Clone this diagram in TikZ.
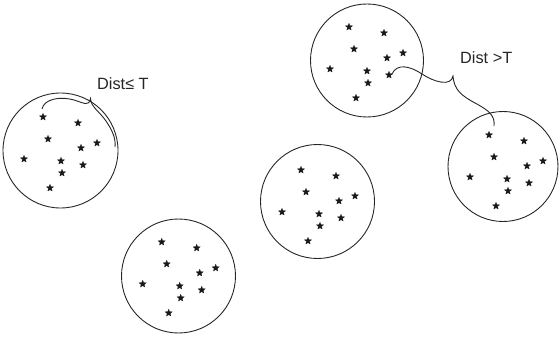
\documentclass[tikz,border=0pt]{standalone}
\usepackage{fontspec}
\setmainfont{Liberation Sans}
\usetikzlibrary{shapes.geometric}
\begin{document}
\begin{tikzpicture}[x=1pt,y=-1pt,
  cluster/.style={draw=black!85,line width=0.9pt},
  pt/.style={star,star points=5,star point ratio=2.2,fill=black!90,draw=black!90,line width=0.2pt,inner sep=0pt,minimum size=7.5pt},
  brace/.style={draw=black!85,line width=0.9pt},
  lbl/.style={anchor=base west,inner sep=0pt,font=\fontsize{16.3}{18}\selectfont,text=black!85}]
\useasboundingbox (0,0) rectangle (559,339);
% clusters
\node[cluster,circle,minimum size=115pt,inner sep=0pt] (c1) at (60.5,150.5) {};
\node[cluster,circle,minimum size=113pt,inner sep=0pt] (c2) at (367,60.5) {};
\node[cluster,circle,minimum size=110pt,inner sep=0pt] (c3) at (503,166.5) {};
\node[cluster,circle,minimum size=114pt,inner sep=0pt] (c4) at (178.5,276) {};
\node[cluster,circle,minimum size=114pt,inner sep=0pt] (c5) at (317.5,201.5) {};
% points
\foreach \ox/\oy/\n in {43/117/a,349/27/b,489/135/c,161.7/242/d,301/170/e}{
  \foreach \dx/\dy [count=\i] in {0/0,35/6,5/22,54/26,38/31,-19/42,18/44,40/48,19/56,7/71}{
    \node[pt] (s\n\i) at (\ox+\dx,\oy+\dy) {};
  }
}
% labels
\node[lbl] (l1) at (97,90) {Dist≤ T};
\node[lbl] (l2) at (460,63.5) {Dist >T};
% braces
\coordinate (b1s) at (42,109);
\coordinate (b1t) at (90.5,98.5);
\coordinate (b1e) at (115,147);
\draw[brace] (b1s) .. controls (44,99) and (60,96) .. (74,100)
  .. controls (84,103) and (89,107) .. (b1t)
  .. controls (91,107) and (99,111) .. (106,121)
  .. controls (112,130) and (116,138) .. (b1e);
\coordinate (b2s) at (392,74);
\coordinate (b2t) at (453,76);
\coordinate (b2e) at (494,126);
\draw[brace] (b2s) .. controls (397,63) and (410,66) .. (422,74)
  .. controls (434,82) and (451,87) .. (b2t)
  .. controls (454,90) and (462,96) .. (475,103)
  .. controls (490,111) and (495,116) .. (b2e);
\end{tikzpicture}
\end{document}
